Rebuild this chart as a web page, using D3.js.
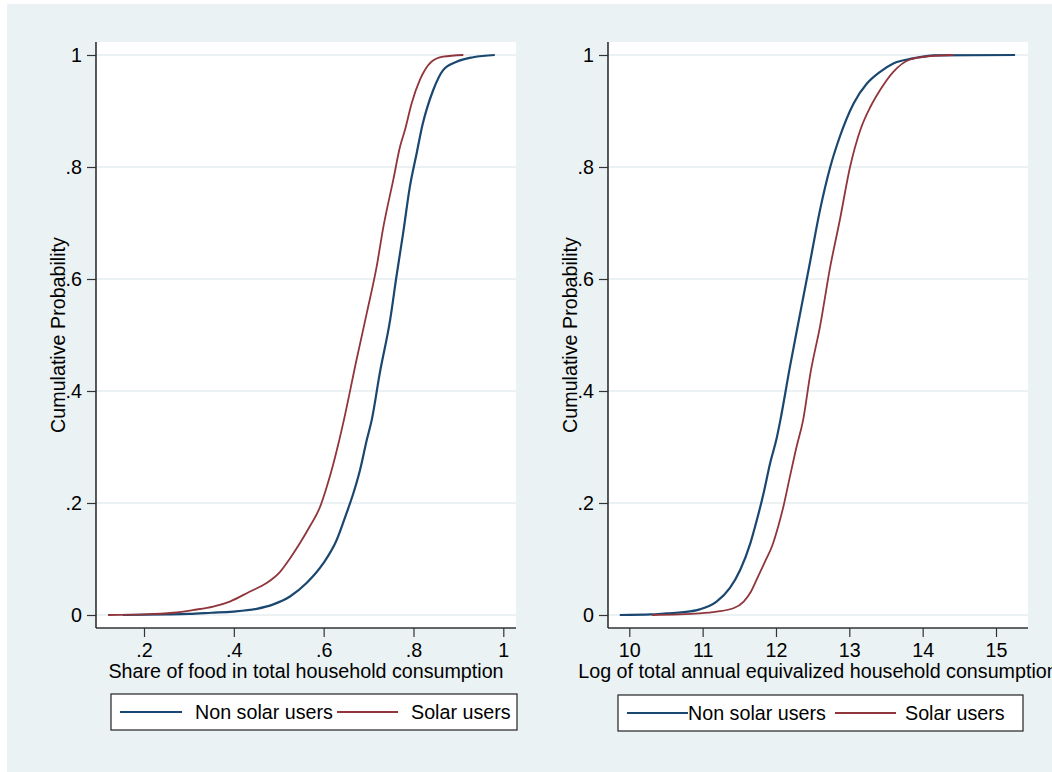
<!DOCTYPE html>
<html>
<head>
<meta charset="utf-8">
<script src="https://cdn.jsdelivr.net/npm/d3@7"></script>
<style>
  body { margin: 0; background: #fff; }
  svg { display: block; font-family: "Liberation Sans", Arial, sans-serif; }
</style>
</head>
<body>
<div id="chart"></div>
<script>
// values: [x, cumulative probability]
const foodNonSolar = [[0.153,0],[0.25,0.001],[0.30,0.002],[0.35,0.004],[0.398,0.006],[0.451,0.011],[0.488,0.019],[0.525,0.033],[0.562,0.057],[0.599,0.092],[0.629,0.134],[0.651,0.182],[0.666,0.217],[0.681,0.259],[0.696,0.3125],[0.707,0.348],[0.725,0.432],[0.748,0.527],[0.762,0.604],[0.777,0.682],[0.792,0.765],[0.807,0.824],[0.82,0.875],[0.829,0.902],[0.844,0.9375],[0.866,0.973],[0.896,0.988],[0.933,0.996],[0.981,1]];
const foodSolar = [[0.12,0],[0.2,0.001],[0.265,0.004],[0.31,0.009],[0.354,0.015],[0.391,0.024],[0.436,0.042],[0.473,0.057],[0.503,0.077],[0.525,0.101],[0.547,0.128],[0.569,0.158],[0.592,0.193],[0.607,0.229],[0.62,0.265],[0.632,0.303],[0.645,0.348],[0.673,0.455],[0.696,0.539],[0.718,0.622],[0.733,0.693],[0.755,0.777],[0.77,0.836],[0.781,0.866],[0.796,0.914],[0.814,0.955],[0.84,0.988],[0.866,0.997],[0.911,1]];
const consNonSolar = [[9.87,0],[10.3,0.001],[10.51,0.003],[10.74,0.005],[10.96,0.010],[11.19,0.024],[11.37,0.048],[11.51,0.080],[11.65,0.128],[11.74,0.170],[11.83,0.217],[11.92,0.271],[12.01,0.316],[12.06,0.348],[12.19,0.443],[12.33,0.539],[12.47,0.634],[12.60,0.723],[12.74,0.80],[12.87,0.854],[13.06,0.914],[13.24,0.949],[13.42,0.970],[13.60,0.985],[13.87,0.994],[14.15,0.9995],[15.26,1]];
const consSolar = [[10.31,0],[10.96,0.003],[11.19,0.006],[11.42,0.012],[11.56,0.024],[11.66,0.042],[11.76,0.07],[11.86,0.098],[11.95,0.124],[12.03,0.158],[12.10,0.193],[12.19,0.247],[12.28,0.30],[12.37,0.348],[12.47,0.432],[12.60,0.515],[12.74,0.622],[12.87,0.705],[13.01,0.80],[13.15,0.866],[13.29,0.908],[13.42,0.9375],[13.60,0.970],[13.83,0.992],[14.10,0.998],[14.42,1]];

const yTicks = [0, 0.2, 0.4, 0.6, 0.8, 1];
const foodTicks = [0.2, 0.4, 0.6, 0.8, 1];
const consTicks = [10, 11, 12, 13, 14, 15];
const seriesNames = ["Non solar users", "Solar users"];

const width = 1052, height = 772;
const colors = ["#1a476f", "#90353b"];
const fontSize = 19.7;
const fmt = d => d3.format("")(d).replace(/^0\./, ".");

const svg = d3.select("#chart").append("svg")
    .attr("width", width)
    .attr("height", height);

svg.append("rect")
    .attr("x", 7).attr("y", 4)
    .attr("width", width - 7).attr("height", height - 4)
    .attr("fill", "#eaf2f3");

/* one panel per variable */
const panels = [
    {left: 96, right: 516, xDomain: [0.2, 1], xRange: [144, 503.3], ticks: foodTicks,
     title: "Share of food in total household consumption", series: [foodNonSolar, foodSolar],
     legend: {x0: 111, x1: 517, y0: 694, lines: [[120, 182, 195], [337, 398, 411]]}},
    {left: 608, right: 1028, xDomain: [10, 15], xRange: [629.3, 996], ticks: consTicks,
     title: "Log of total annual equivalized household consumption", series: [consNonSolar, consSolar],
     legend: {x0: 618, x1: 1023, y0: 695, lines: [[627, 688, 688], [835, 896, 905]]}}
];

const plotTop = 42, plotBottom = 628;
const yScale = d3.scaleLinear().domain([0, 1]).range([615, 55]);

panels.forEach(function(p) {
    const g = svg.append("g");
    const xScale = d3.scaleLinear().domain(p.xDomain).range(p.xRange);

    g.append("rect")
        .attr("x", p.left).attr("y", plotTop)
        .attr("width", p.right - p.left).attr("height", plotBottom - plotTop)
        .attr("fill", "#fff");

    // gridlines
    g.selectAll(".grid").data(yTicks).enter().append("line")
        .attr("x1", p.left).attr("x2", p.right)
        .attr("y1", d => yScale(d)).attr("y2", d => yScale(d))
        .attr("stroke", "#e6eef0").attr("stroke-width", 1.5);

    const line = d3.line()
        .x(d => xScale(d[0]))
        .y(d => yScale(d[1]))
        .curve(d3.curveMonotoneX);

    p.series.forEach(function(s, i) {
        g.append("path")
            .datum(s)
            .attr("d", line)
            .attr("fill", "none")
            .attr("stroke", colors[i])
            .attr("stroke-width", i == 0 ? 2.2 : 1.8);
    });

    // y axis
    const yAxis = g.append("g")
        .attr("transform", `translate(${p.left},0)`)
        .call(d3.axisLeft(yScale).tickValues(yTicks).tickFormat(fmt).tickSize(9).tickPadding(5));
    yAxis.select(".domain").attr("d", `M0,${plotTop}V${plotBottom}`).attr("stroke", "#000").attr("stroke-width", 1.3);

    // x axis
    const xAxis = g.append("g")
        .attr("transform", `translate(0,${plotBottom})`)
        .call(d3.axisBottom(xScale).tickValues(p.ticks).tickFormat(fmt).tickSize(9).tickPadding(6));
    xAxis.select(".domain").attr("d", `M${p.left},0H${p.right}`).attr("stroke", "#333").attr("stroke-width", 1.3);

    [yAxis, xAxis].forEach(function(a) {
        a.selectAll(".tick line").attr("stroke", "#333").attr("stroke-width", 1.2);
        a.selectAll("text").attr("font-size", fontSize).attr("font-family", "Liberation Sans, Arial, sans-serif").attr("fill", "#000");
    });

    g.append("text")
        .attr("x", (p.left + p.right) / 2)
        .attr("y", 678)
        .attr("text-anchor", "middle")
        .attr("font-size", fontSize)
        .text(p.title);

    g.append("text")
        .attr("transform", `translate(${p.left - 31},${(plotTop + plotBottom) / 2}) rotate(-90)`)
        .attr("text-anchor", "middle")
        .attr("font-size", fontSize)
        .text("Cumulative Probability");

    // legend
    const L = p.legend;
    g.append("rect")
        .attr("x", L.x0).attr("y", L.y0)
        .attr("width", L.x1 - L.x0).attr("height", 36)
        .attr("fill", "#fff").attr("stroke", "#222").attr("stroke-width", 1.2);

    L.lines.forEach(function(l, i) {
        g.append("line")
            .attr("x1", l[0]).attr("x2", l[1])
            .attr("y1", L.y0 + 18).attr("y2", L.y0 + 18)
            .attr("stroke", colors[i]).attr("stroke-width", 1.8);
        g.append("text")
            .attr("x", l[2]).attr("y", L.y0 + 25)
            .attr("font-size", fontSize)
            .text(seriesNames[i]);
    });
});
</script>
</body>
</html>
